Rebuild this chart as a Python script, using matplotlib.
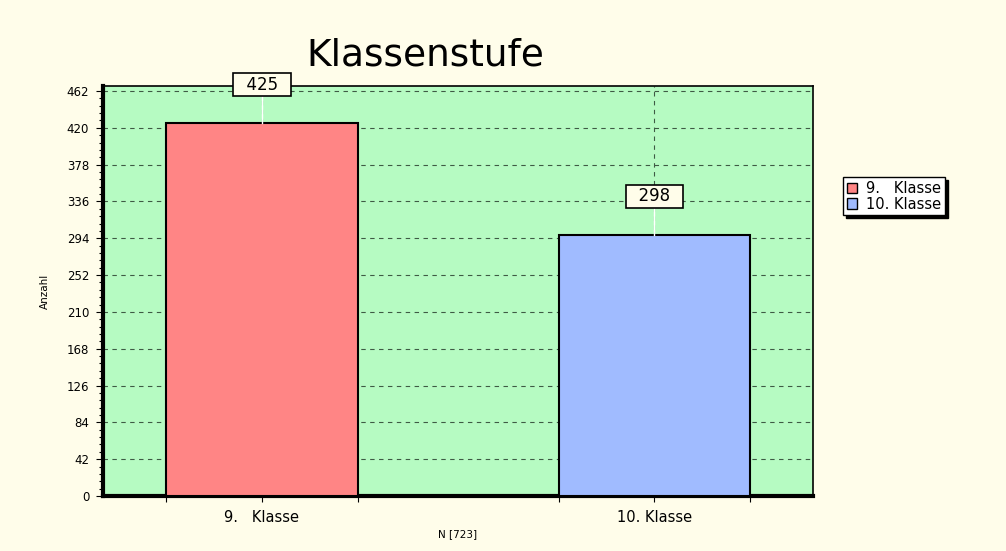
import matplotlib
matplotlib.use("Agg")
import matplotlib.pyplot as plt
import numpy as np
from matplotlib.ticker import MultipleLocator, FixedLocator

categories = ["9.   Klasse", "10. Klasse"]
values = [425, 298]
colors = ["#FF8585", "#A0BBFF"]
yticks = list(range(0, 463, 42))
title = "Klassenstufe"
ylabel = "Anzahl"
xlabel = "N [723]"

fig = plt.figure(figsize=(10.06, 5.51), dpi=100)
fig.patch.set_facecolor("#FFFDEA")
ax = fig.add_axes([0.1024, 0.0998, 0.7058, 0.7441])
ax.set_facecolor("#B6FBC2")

x = np.arange(len(categories))
width = 0.487
bars = ax.bar(x, values, width=width, color=colors, edgecolor="black", linewidth=1.5, zorder=3)

ax.set_xlim(-0.405, 1.404)
ax.set_ylim(0, 467.7)
ax.set_yticks(yticks)
ax.yaxis.set_minor_locator(MultipleLocator(8.4))
ax.set_xticks(x)
ax.set_xticklabels(categories, fontsize=10.5)
edges = []
for xi in x:
    edges += [xi - width / 2, xi + width / 2]
ax.xaxis.set_minor_locator(FixedLocator(edges))
ax.tick_params(axis="y", labelsize=8.5, length=5, width=0.8, pad=5)
ax.tick_params(axis="y", which="minor", length=3, width=0.8)
ax.tick_params(axis="x", length=4, width=0.8, pad=6)
ax.tick_params(axis="x", which="minor", length=4, width=0.8)

ax.grid(axis="y", linestyle=(0, (4, 4)), color="#3E5A44", linewidth=0.8, zorder=1)
ax.grid(axis="x", linestyle=(0, (4, 4)), color="#3E5A44", linewidth=0.8, zorder=1)

for side in ["left", "bottom"]:
    ax.spines[side].set_linewidth(3)
for side in ["right", "top"]:
    ax.spines[side].set_linewidth(1.2)

for xi, v in zip(x, values):
    ytxt = v + 44
    ax.plot([xi, xi], [v, ytxt], color="white", linewidth=1, zorder=4)
    ax.text(xi, ytxt, f"  {v}  ", ha="center", va="center", fontsize=12, zorder=6,
            bbox=dict(boxstyle="square,pad=0.15", facecolor="#FFFDEA", edgecolor="black", linewidth=1.2),
            clip_on=False)

fig.text(0.4225, 0.882, title, ha="center", va="baseline", fontsize=27)
ax.set_ylabel(ylabel, fontsize=7.5, labelpad=12)
ax.set_xlabel(xlabel, fontsize=7.5, labelpad=3)

leg = ax.legend(bars, categories, loc="upper left", bbox_to_anchor=(1.042, 0.777),
                fontsize=10.5, frameon=True, fancybox=False,
                shadow={"color": "black", "alpha": 1},
                handlelength=0.75, handleheight=0.75, handletextpad=0.6,
                borderpad=0.25, labelspacing=0.05, borderaxespad=0)
leg.get_frame().set_edgecolor("black")
leg.get_frame().set_facecolor("white")
leg.get_frame().set_linewidth(1)
for h in leg.legend_handles:
    h.set_linewidth(1)

fig.savefig("out.png", dpi=100, facecolor=fig.get_facecolor())
